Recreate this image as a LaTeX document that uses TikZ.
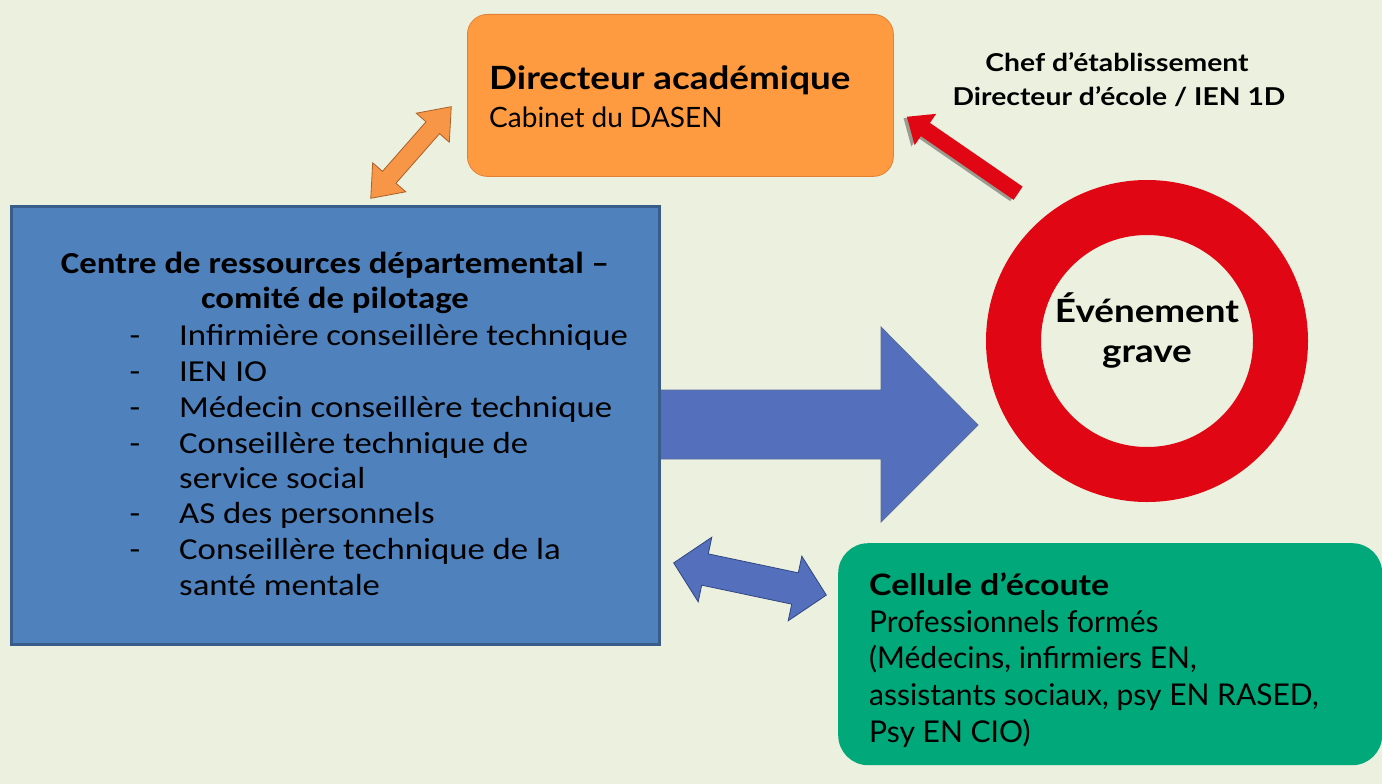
\documentclass[tikz,border=0pt]{standalone}
\usepackage{fontspec}
\setmainfont{Lato}
\newfontfamily\marb{Lato}[FakeStretch=1.15]
\newfontfamily\calfont{Carlito}[FakeStretch=1.14]
\usetikzlibrary{shadows}
\definecolor{bgc}{RGB}{235,240,223}
\definecolor{orfill}{RGB}{254,155,64}
\definecolor{ordraw}{RGB}{226,128,52}
\definecolor{oarfill}{RGB}{247,150,70}
\definecolor{oardraw}{RGB}{170,96,40}
\definecolor{bluefill}{RGB}{79,129,189}
\definecolor{bluedraw}{RGB}{56,93,138}
\definecolor{arfill}{RGB}{84,112,188}
\definecolor{ardraw}{RGB}{47,70,130}
\definecolor{ringred}{RGB}{225,6,19}
\definecolor{greenfill}{RGB}{0,168,122}
\tikzset{
  obox/.style={draw=ordraw, fill=orfill, line width=0.8pt, rounded corners=20pt, inner sep=0pt},
  gbox/.style={fill=greenfill, rounded corners=30pt, inner sep=0pt},
  bbox/.style={draw=bluedraw, fill=bluefill, line width=3pt, inner sep=0pt},
  txt/.style={inner sep=0pt, text=black},
  caltxt/.style={txt, font=\calfont\fontsize{30.5}{36}\selectfont},
  calbold/.style={txt, font=\calfont\bfseries\fontsize{30.5}{36}\selectfont},
  gtxt/.style={txt, font=\fontsize{30}{36}\selectfont},
  blockarrow/.style={line width=0.8pt, line join=miter},
}
\begin{document}
\begin{tikzpicture}[x=1pt,y=-1pt]
\useasboundingbox (0,0) rectangle (1382,784);
\fill[bgc] (0,0) rectangle (1382,784);

% orange box
\node[obox, minimum width=426pt, minimum height=162pt, anchor=north west] (dir) at (467,14) {};
\node[txt, anchor=base west, font=\marb\bfseries\fontsize{32}{36}\selectfont] (dirT) at (489,89) {Directeur académique};
\node[txt, anchor=base west, font=\fontsize{28}{30}\selectfont] (dirS) at (489,127) {Cabinet du DASEN};

% top right text
\node[txt, anchor=base, font=\marb\bfseries\fontsize{24.6}{30}\selectfont] (chef1) at (1117,72) {Chef d’établissement};
\node[txt, anchor=base, font=\marb\bfseries\fontsize{24.6}{30}\selectfont] (chef2) at (1119,105) {Directeur d’école / IEN 1D};

% ring
\node[circle, draw=ringred, fill=bgc, line width=55pt, minimum size=267pt, inner sep=0pt] (ring) at (1147,341) {};
\node[txt, anchor=base, font=\marb\bfseries\fontsize{32}{36}\selectfont] (ev1) at (1147,322) {Événement};
\node[txt, anchor=base, font=\marb\bfseries\fontsize{32}{36}\selectfont] (ev2) at (1147,362) {grave};

% big arrow
\draw[blockarrow, fill=arfill, draw=ardraw!80] (658,390) -- (881,390) -- (881,327) -- (978,425) -- (881,522) -- (881,459) -- (658,459) -- cycle;

% blue box
\node[bbox, minimum width=648pt, minimum height=438pt, anchor=north west] (crc) at (10,205) {};
\node[calbold, anchor=base] (c1) at (335,273) {Centre de ressources départemental –};
\node[calbold, anchor=base] (c2) at (335,308) {comité de pilotage};
\foreach \y/\t [count=\i] in {345/{Infirmière conseillère technique},381/{IEN IO},417/{Médecin conseillère technique},453/{Conseillère technique de},523/{AS des personnels},559/{Conseillère technique de la}}{
  \node[caltxt, anchor=base] (d\i) at (135,\y) {-};
  \node[caltxt, anchor=base west] (t\i) at (179,\y) {\t};
}
\node[caltxt, anchor=base west] (t4b) at (179,488) {service social};
\node[caltxt, anchor=base west] (t6b) at (179,595) {santé mentale};

% green box
\node[gbox, minimum width=544pt, minimum height=222pt, anchor=north west] (cel) at (838,543) {};
\node[txt, anchor=base west, font=\marb\bfseries\fontsize{29.5}{36}\selectfont] (g1) at (869,595) {Cellule d’écoute};
\foreach \y/\t [count=\i] in {632/{Professionnels formés},668/{(Médecins, infirmiers EN,},705/{assistants sociaux, psy EN RASED,},742/{Psy EN CIO)}}{
  \node[gtxt, anchor=base west] (gl\i) at (869,\y) {\t};
}

% orange double arrow (crc <-> dir)
\coordinate (oa) at (411,152.5);
\draw[blockarrow, fill=oarfill, draw=oardraw, shift={(oa)}, rotate=48.7]
  (-61,0) -- (-33,-22) -- (-33,-9) -- (33,-9) -- (33,-22) -- (61,0) -- (33,22) -- (33,9) -- (-33,9) -- (-33,22) -- cycle;

% blue double arrow (crc <-> cel)
\coordinate (da) at (750,579);
\draw[blockarrow, fill=arfill, draw=ardraw, shift={(da)}, rotate=-11.9]
  (-78,0) -- (-46,-33) -- (-46,-16) -- (46,-16) -- (46,-33) -- (78,0) -- (46,33) -- (46,16) -- (-46,16) -- (-46,33) -- cycle;

% red arrow (event -> dir)
\coordinate (ra) at (962.5,155);
\fill[black, opacity=0.35, shift={(ra)}, rotate=145.5] ([shift={(2,-3)}]-67.5,-8) -- ([shift={(2,-3)}]45,-8) -- ([shift={(2,-3)}]45,-19) -- ([shift={(2,-3)}]67.5,0) -- ([shift={(2,-3)}]45,19) -- ([shift={(2,-3)}]45,8) -- ([shift={(2,-3)}]-67.5,8) -- cycle;
\fill[ringred, shift={(ra)}, rotate=145.5]
  (-67.5,-8) -- (45,-8) -- (45,-19) -- (67.5,0) -- (45,19) -- (45,8) -- (-67.5,8) -- cycle;
\end{tikzpicture}
\end{document}
